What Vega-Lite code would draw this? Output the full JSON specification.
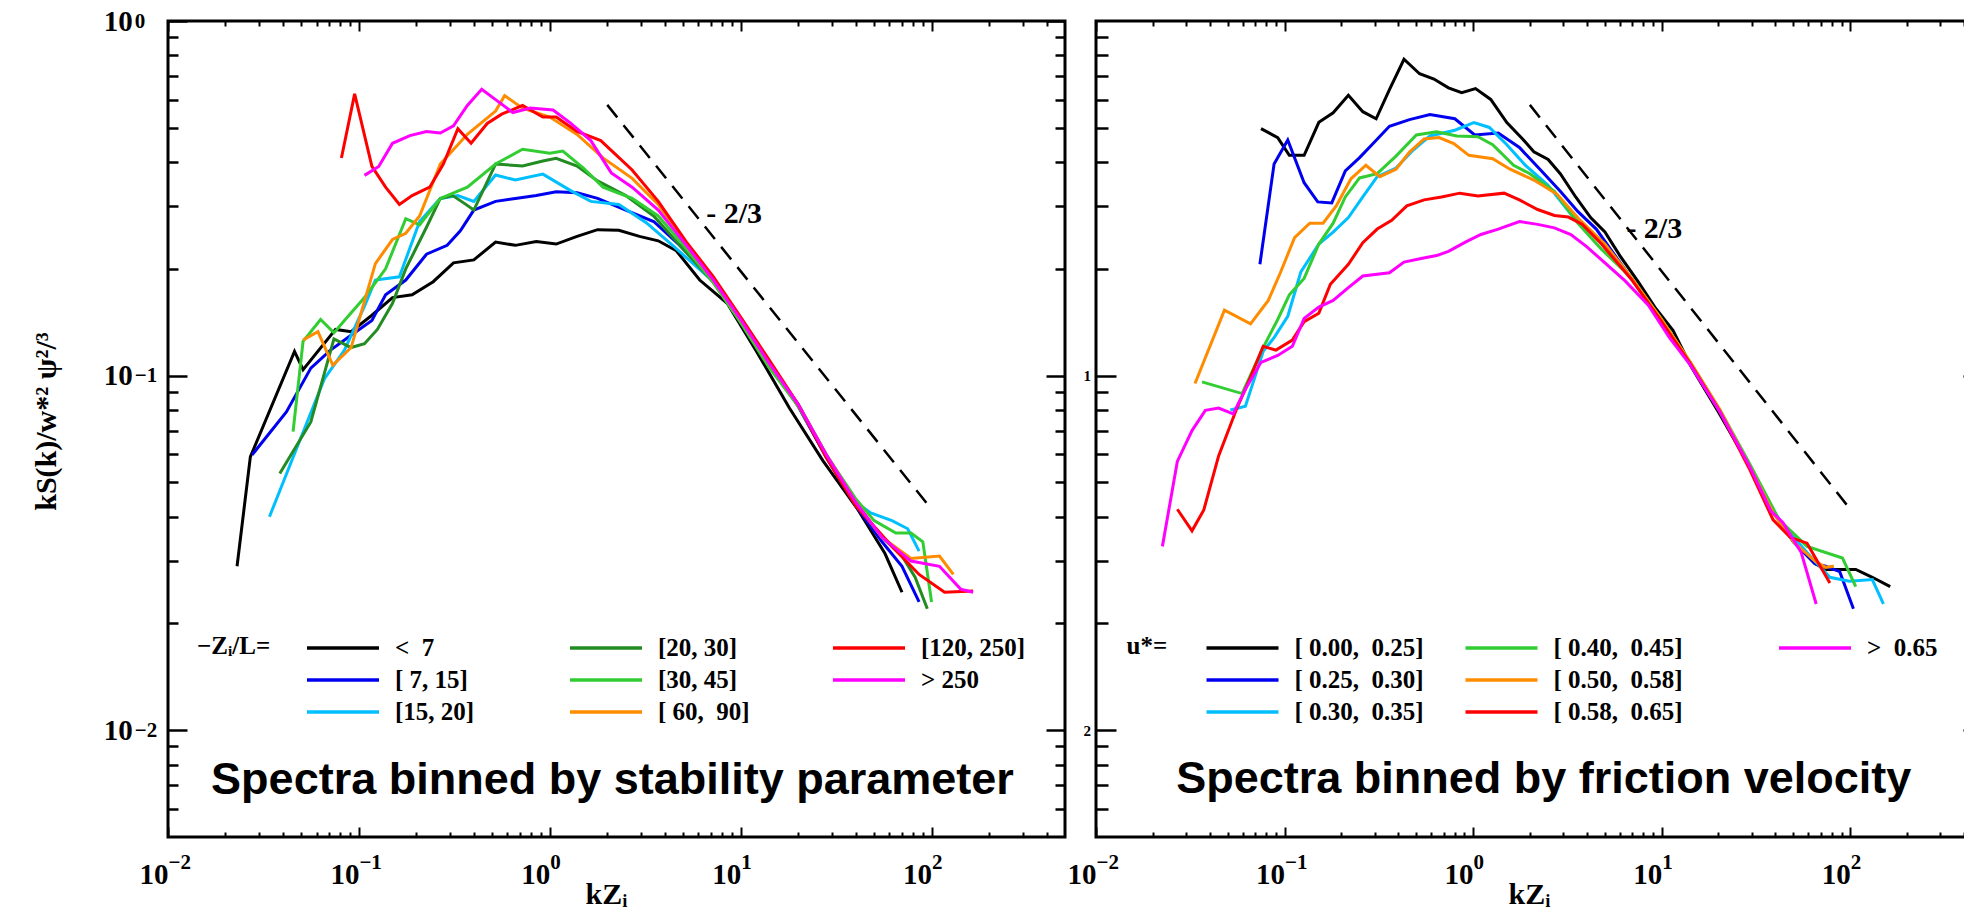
{
"$schema":"https://vega.github.io/schema/vega-lite/v6.json",
"padding":{"left":29,"top":5,"right":-17,"bottom":0},
"autosize":{"type":"pad"},
"bounds":"flush",
"spacing":31,
"background":"white",
"config":{
 "view":{"stroke":"black","strokeWidth":3},
 "axis":{"grid":false,"domain":false,"labelFlush":false,"labelOverlap":false,"labelBound":false,"tickColor":"black","labelColor":"black","titleColor":"black","labelFont":"Liberation Serif","labelFontWeight":"bold","titleFont":"Liberation Serif","titleFontWeight":"bold"},
 "legend":{"labelFont":"Liberation Serif","labelFontWeight":"bold","titleFont":"Liberation Serif","titleFontWeight":"bold","labelColor":"black","titleColor":"black"}
},
"datasets":{
"left":[
{"s":"< 7","x":0.023,"y":0.029},{"s":"< 7","x":0.027,"y":0.059},{"s":"< 7","x":0.046,"y":0.117},{"s":"< 7","x":0.051,"y":0.104},{"s":"< 7","x":0.0755,"y":0.135},{"s":"< 7","x":0.091,"y":0.133},{"s":"< 7","x":0.117,"y":0.148},{"s":"< 7","x":0.15,"y":0.166},{"s":"< 7","x":0.19,"y":0.169},{"s":"< 7","x":0.245,"y":0.184},{"s":"< 7","x":0.313,"y":0.208},{"s":"< 7","x":0.4,"y":0.212},{"s":"< 7","x":0.52,"y":0.238},{"s":"< 7","x":0.66,"y":0.233},{"s":"< 7","x":0.85,"y":0.239},{"s":"< 7","x":1.08,"y":0.235},{"s":"< 7","x":1.39,"y":0.247},{"s":"< 7","x":1.78,"y":0.258},{"s":"< 7","x":2.3,"y":0.257},{"s":"< 7","x":2.95,"y":0.247},{"s":"< 7","x":3.7,"y":0.24},{"s":"< 7","x":4.6,"y":0.225},{"s":"< 7","x":6.1,"y":0.186},{"s":"< 7","x":8.5,"y":0.16},{"s":"< 7","x":12,"y":0.118},{"s":"< 7","x":18,"y":0.081},{"s":"< 7","x":27,"y":0.0575},{"s":"< 7","x":41,"y":0.042},{"s":"< 7","x":57,"y":0.0315},{"s":"< 7","x":70,"y":0.0245},
{"s":"[ 7, 15]","x":0.0276,"y":0.0598},{"s":"[ 7, 15]","x":0.0417,"y":0.079},{"s":"[ 7, 15]","x":0.056,"y":0.105},{"s":"[ 7, 15]","x":0.071,"y":0.118},{"s":"[ 7, 15]","x":0.091,"y":0.13},{"s":"[ 7, 15]","x":0.117,"y":0.143},{"s":"[ 7, 15]","x":0.138,"y":0.169},{"s":"[ 7, 15]","x":0.176,"y":0.186},{"s":"[ 7, 15]","x":0.226,"y":0.22},{"s":"[ 7, 15]","x":0.29,"y":0.233},{"s":"[ 7, 15]","x":0.34,"y":0.256},{"s":"[ 7, 15]","x":0.4,"y":0.293},{"s":"[ 7, 15]","x":0.52,"y":0.31},{"s":"[ 7, 15]","x":0.66,"y":0.316},{"s":"[ 7, 15]","x":0.85,"y":0.322},{"s":"[ 7, 15]","x":1.08,"y":0.33},{"s":"[ 7, 15]","x":1.39,"y":0.328},{"s":"[ 7, 15]","x":1.78,"y":0.316},{"s":"[ 7, 15]","x":2.5,"y":0.293},{"s":"[ 7, 15]","x":3.5,"y":0.272},{"s":"[ 7, 15]","x":4.8,"y":0.233},{"s":"[ 7, 15]","x":7.2,"y":0.185},{"s":"[ 7, 15]","x":10,"y":0.142},{"s":"[ 7, 15]","x":14,"y":0.108},{"s":"[ 7, 15]","x":20,"y":0.082},{"s":"[ 7, 15]","x":28,"y":0.059},{"s":"[ 7, 15]","x":40,"y":0.043},{"s":"[ 7, 15]","x":55,"y":0.034},{"s":"[ 7, 15]","x":70,"y":0.029},{"s":"[ 7, 15]","x":86,"y":0.023},
{"s":"[15, 20]","x":0.034,"y":0.04},{"s":"[15, 20]","x":0.047,"y":0.062},{"s":"[15, 20]","x":0.066,"y":0.098},{"s":"[15, 20]","x":0.084,"y":0.118},{"s":"[15, 20]","x":0.107,"y":0.157},{"s":"[15, 20]","x":0.122,"y":0.186},{"s":"[15, 20]","x":0.163,"y":0.19},{"s":"[15, 20]","x":0.208,"y":0.272},{"s":"[15, 20]","x":0.267,"y":0.316},{"s":"[15, 20]","x":0.33,"y":0.322},{"s":"[15, 20]","x":0.4,"y":0.31},{"s":"[15, 20]","x":0.52,"y":0.368},{"s":"[15, 20]","x":0.66,"y":0.356},{"s":"[15, 20]","x":0.92,"y":0.37},{"s":"[15, 20]","x":1.28,"y":0.333},{"s":"[15, 20]","x":1.64,"y":0.31},{"s":"[15, 20]","x":2.3,"y":0.304},{"s":"[15, 20]","x":3.2,"y":0.27},{"s":"[15, 20]","x":4.4,"y":0.233},{"s":"[15, 20]","x":7.2,"y":0.184},{"s":"[15, 20]","x":10,"y":0.143},{"s":"[15, 20]","x":14,"y":0.109},{"s":"[15, 20]","x":20,"y":0.083},{"s":"[15, 20]","x":28,"y":0.06},{"s":"[15, 20]","x":40,"y":0.044},{"s":"[15, 20]","x":48,"y":0.041},{"s":"[15, 20]","x":62,"y":0.039},{"s":"[15, 20]","x":75,"y":0.037},{"s":"[15, 20]","x":86,"y":0.032},
{"s":"[20, 30]","x":0.0385,"y":0.053},{"s":"[20, 30]","x":0.056,"y":0.074},{"s":"[20, 30]","x":0.074,"y":0.127},{"s":"[20, 30]","x":0.091,"y":0.12},{"s":"[20, 30]","x":0.107,"y":0.123},{"s":"[20, 30]","x":0.125,"y":0.135},{"s":"[20, 30]","x":0.15,"y":0.16},{"s":"[20, 30]","x":0.176,"y":0.2},{"s":"[20, 30]","x":0.226,"y":0.262},{"s":"[20, 30]","x":0.267,"y":0.316},{"s":"[20, 30]","x":0.31,"y":0.322},{"s":"[20, 30]","x":0.36,"y":0.305},{"s":"[20, 30]","x":0.4,"y":0.293},{"s":"[20, 30]","x":0.52,"y":0.395},{"s":"[20, 30]","x":0.72,"y":0.39},{"s":"[20, 30]","x":0.92,"y":0.403},{"s":"[20, 30]","x":1.08,"y":0.41},{"s":"[20, 30]","x":1.39,"y":0.39},{"s":"[20, 30]","x":1.78,"y":0.354},{"s":"[20, 30]","x":2.5,"y":0.322},{"s":"[20, 30]","x":3.5,"y":0.282},{"s":"[20, 30]","x":4.8,"y":0.233},{"s":"[20, 30]","x":7.2,"y":0.183},{"s":"[20, 30]","x":10,"y":0.142},{"s":"[20, 30]","x":14,"y":0.108},{"s":"[20, 30]","x":20,"y":0.083},{"s":"[20, 30]","x":28,"y":0.06},{"s":"[20, 30]","x":40,"y":0.0435},{"s":"[20, 30]","x":55,"y":0.035},{"s":"[20, 30]","x":70,"y":0.031},{"s":"[20, 30]","x":82,"y":0.027},{"s":"[20, 30]","x":95,"y":0.022},
{"s":"[30, 45]","x":0.0452,"y":0.0695},{"s":"[30, 45]","x":0.051,"y":0.125},{"s":"[30, 45]","x":0.063,"y":0.144},{"s":"[30, 45]","x":0.074,"y":0.132},{"s":"[30, 45]","x":0.084,"y":0.143},{"s":"[30, 45]","x":0.107,"y":0.166},{"s":"[30, 45]","x":0.138,"y":0.2},{"s":"[30, 45]","x":0.176,"y":0.277},{"s":"[30, 45]","x":0.208,"y":0.266},{"s":"[30, 45]","x":0.267,"y":0.316},{"s":"[30, 45]","x":0.37,"y":0.34},{"s":"[30, 45]","x":0.52,"y":0.395},{"s":"[30, 45]","x":0.72,"y":0.435},{"s":"[30, 45]","x":1.0,"y":0.424},{"s":"[30, 45]","x":1.17,"y":0.43},{"s":"[30, 45]","x":1.5,"y":0.385},{"s":"[30, 45]","x":1.9,"y":0.34},{"s":"[30, 45]","x":2.7,"y":0.316},{"s":"[30, 45]","x":3.7,"y":0.282},{"s":"[30, 45]","x":4.8,"y":0.24},{"s":"[30, 45]","x":7.2,"y":0.183},{"s":"[30, 45]","x":10,"y":0.141},{"s":"[30, 45]","x":14,"y":0.106},{"s":"[30, 45]","x":20,"y":0.082},{"s":"[30, 45]","x":28,"y":0.06},{"s":"[30, 45]","x":40,"y":0.045},{"s":"[30, 45]","x":50,"y":0.039},{"s":"[30, 45]","x":65,"y":0.036},{"s":"[30, 45]","x":78,"y":0.036},{"s":"[30, 45]","x":90,"y":0.034},{"s":"[30, 45]","x":100,"y":0.023},
{"s":"[ 60,  90]","x":0.051,"y":0.126},{"s":"[ 60,  90]","x":0.061,"y":0.133},{"s":"[ 60,  90]","x":0.073,"y":0.107},{"s":"[ 60,  90]","x":0.091,"y":0.12},{"s":"[ 60,  90]","x":0.122,"y":0.207},{"s":"[ 60,  90]","x":0.15,"y":0.242},{"s":"[ 60,  90]","x":0.176,"y":0.252},{"s":"[ 60,  90]","x":0.208,"y":0.282},{"s":"[ 60,  90]","x":0.267,"y":0.395},{"s":"[ 60,  90]","x":0.37,"y":0.479},{"s":"[ 60,  90]","x":0.52,"y":0.557},{"s":"[ 60,  90]","x":0.58,"y":0.616},{"s":"[ 60,  90]","x":0.72,"y":0.568},{"s":"[ 60,  90]","x":1.0,"y":0.536},{"s":"[ 60,  90]","x":1.39,"y":0.479},{"s":"[ 60,  90]","x":1.9,"y":0.411},{"s":"[ 60,  90]","x":2.7,"y":0.36},{"s":"[ 60,  90]","x":3.7,"y":0.304},{"s":"[ 60,  90]","x":5.2,"y":0.233},{"s":"[ 60,  90]","x":7.2,"y":0.186},{"s":"[ 60,  90]","x":10,"y":0.144},{"s":"[ 60,  90]","x":14,"y":0.109},{"s":"[ 60,  90]","x":20,"y":0.083},{"s":"[ 60,  90]","x":28,"y":0.06},{"s":"[ 60,  90]","x":40,"y":0.044},{"s":"[ 60,  90]","x":55,"y":0.035},{"s":"[ 60,  90]","x":78,"y":0.0305},{"s":"[ 60,  90]","x":110,"y":0.031},{"s":"[ 60,  90]","x":130,"y":0.0275},
{"s":"[120, 250]","x":0.081,"y":0.411},{"s":"[120, 250]","x":0.095,"y":0.623},{"s":"[120, 250]","x":0.117,"y":0.389},{"s":"[120, 250]","x":0.138,"y":0.34},{"s":"[120, 250]","x":0.163,"y":0.304},{"s":"[120, 250]","x":0.19,"y":0.322},{"s":"[120, 250]","x":0.235,"y":0.34},{"s":"[120, 250]","x":0.277,"y":0.395},{"s":"[120, 250]","x":0.33,"y":0.497},{"s":"[120, 250]","x":0.387,"y":0.452},{"s":"[120, 250]","x":0.47,"y":0.514},{"s":"[120, 250]","x":0.56,"y":0.546},{"s":"[120, 250]","x":0.72,"y":0.578},{"s":"[120, 250]","x":0.92,"y":0.536},{"s":"[120, 250]","x":1.08,"y":0.536},{"s":"[120, 250]","x":1.39,"y":0.488},{"s":"[120, 250]","x":1.85,"y":0.46},{"s":"[120, 250]","x":2.7,"y":0.38},{"s":"[120, 250]","x":3.7,"y":0.31},{"s":"[120, 250]","x":5.2,"y":0.238},{"s":"[120, 250]","x":7.2,"y":0.19},{"s":"[120, 250]","x":10.1,"y":0.145},{"s":"[120, 250]","x":14.2,"y":0.11},{"s":"[120, 250]","x":20,"y":0.083},{"s":"[120, 250]","x":28,"y":0.059},{"s":"[120, 250]","x":40,"y":0.043},{"s":"[120, 250]","x":62,"y":0.033},{"s":"[120, 250]","x":86,"y":0.0275},{"s":"[120, 250]","x":117,"y":0.0245},{"s":"[120, 250]","x":165,"y":0.0247},
{"s":"> 250","x":0.107,"y":0.367},{"s":"> 250","x":0.127,"y":0.389},{"s":"> 250","x":0.15,"y":0.452},{"s":"> 250","x":0.185,"y":0.475},{"s":"> 250","x":0.226,"y":0.488},{"s":"> 250","x":0.267,"y":0.483},{"s":"> 250","x":0.313,"y":0.506},{"s":"> 250","x":0.37,"y":0.578},{"s":"> 250","x":0.44,"y":0.642},{"s":"> 250","x":0.52,"y":0.6},{"s":"> 250","x":0.64,"y":0.552},{"s":"> 250","x":0.79,"y":0.568},{"s":"> 250","x":1.04,"y":0.561},{"s":"> 250","x":1.28,"y":0.516},{"s":"> 250","x":1.64,"y":0.46},{"s":"> 250","x":2.1,"y":0.373},{"s":"> 250","x":2.7,"y":0.34},{"s":"> 250","x":3.7,"y":0.293},{"s":"> 250","x":5.2,"y":0.233},{"s":"> 250","x":7.2,"y":0.186},{"s":"> 250","x":10,"y":0.144},{"s":"> 250","x":14,"y":0.109},{"s":"> 250","x":20,"y":0.083},{"s":"> 250","x":28,"y":0.06},{"s":"> 250","x":40,"y":0.044},{"s":"> 250","x":55,"y":0.035},{"s":"> 250","x":78,"y":0.03},{"s":"> 250","x":110,"y":0.029},{"s":"> 250","x":142,"y":0.025},{"s":"> 250","x":165,"y":0.0245}
],
"right":[
{"s":"[ 0.00,  0.25]","x":0.075,"y":0.497},{"s":"[ 0.00,  0.25]","x":0.092,"y":0.469},{"s":"[ 0.00,  0.25]","x":0.106,"y":0.418},{"s":"[ 0.00,  0.25]","x":0.127,"y":0.418},{"s":"[ 0.00,  0.25]","x":0.152,"y":0.518},{"s":"[ 0.00,  0.25]","x":0.181,"y":0.551},{"s":"[ 0.00,  0.25]","x":0.218,"y":0.617},{"s":"[ 0.00,  0.25]","x":0.26,"y":0.555},{"s":"[ 0.00,  0.25]","x":0.306,"y":0.53},{"s":"[ 0.00,  0.25]","x":0.36,"y":0.64},{"s":"[ 0.00,  0.25]","x":0.43,"y":0.78},{"s":"[ 0.00,  0.25]","x":0.52,"y":0.71},{"s":"[ 0.00,  0.25]","x":0.62,"y":0.686},{"s":"[ 0.00,  0.25]","x":0.74,"y":0.648},{"s":"[ 0.00,  0.25]","x":0.87,"y":0.628},{"s":"[ 0.00,  0.25]","x":1.03,"y":0.645},{"s":"[ 0.00,  0.25]","x":1.24,"y":0.601},{"s":"[ 0.00,  0.25]","x":1.51,"y":0.517},{"s":"[ 0.00,  0.25]","x":1.83,"y":0.465},{"s":"[ 0.00,  0.25]","x":2.1,"y":0.428},{"s":"[ 0.00,  0.25]","x":2.5,"y":0.407},{"s":"[ 0.00,  0.25]","x":2.9,"y":0.371},{"s":"[ 0.00,  0.25]","x":3.5,"y":0.319},{"s":"[ 0.00,  0.25]","x":4.2,"y":0.279},{"s":"[ 0.00,  0.25]","x":5.0,"y":0.254},{"s":"[ 0.00,  0.25]","x":6.0,"y":0.218},{"s":"[ 0.00,  0.25]","x":7.5,"y":0.184},{"s":"[ 0.00,  0.25]","x":9.2,"y":0.156},{"s":"[ 0.00,  0.25]","x":11.5,"y":0.134},{"s":"[ 0.00,  0.25]","x":14.2,"y":0.107},{"s":"[ 0.00,  0.25]","x":20,"y":0.079},{"s":"[ 0.00,  0.25]","x":29,"y":0.056},{"s":"[ 0.00,  0.25]","x":39,"y":0.0415},{"s":"[ 0.00,  0.25]","x":50,"y":0.034},{"s":"[ 0.00,  0.25]","x":65,"y":0.0295},{"s":"[ 0.00,  0.25]","x":74,"y":0.0284},{"s":"[ 0.00,  0.25]","x":107,"y":0.0284},{"s":"[ 0.00,  0.25]","x":131,"y":0.027},{"s":"[ 0.00,  0.25]","x":163,"y":0.0254},
{"s":"[ 0.25,  0.30]","x":0.074,"y":0.206},{"s":"[ 0.25,  0.30]","x":0.088,"y":0.395},{"s":"[ 0.25,  0.30]","x":0.104,"y":0.462},{"s":"[ 0.25,  0.30]","x":0.127,"y":0.35},{"s":"[ 0.25,  0.30]","x":0.15,"y":0.309},{"s":"[ 0.25,  0.30]","x":0.178,"y":0.307},{"s":"[ 0.25,  0.30]","x":0.21,"y":0.378},{"s":"[ 0.25,  0.30]","x":0.25,"y":0.412},{"s":"[ 0.25,  0.30]","x":0.3,"y":0.456},{"s":"[ 0.25,  0.30]","x":0.36,"y":0.505},{"s":"[ 0.25,  0.30]","x":0.46,"y":0.527},{"s":"[ 0.25,  0.30]","x":0.59,"y":0.545},{"s":"[ 0.25,  0.30]","x":0.8,"y":0.53},{"s":"[ 0.25,  0.30]","x":1.02,"y":0.477},{"s":"[ 0.25,  0.30]","x":1.36,"y":0.483},{"s":"[ 0.25,  0.30]","x":1.76,"y":0.44},{"s":"[ 0.25,  0.30]","x":2.3,"y":0.378},{"s":"[ 0.25,  0.30]","x":2.9,"y":0.331},{"s":"[ 0.25,  0.30]","x":3.6,"y":0.29},{"s":"[ 0.25,  0.30]","x":4.5,"y":0.259},{"s":"[ 0.25,  0.30]","x":6.9,"y":0.188},{"s":"[ 0.25,  0.30]","x":9.9,"y":0.144},{"s":"[ 0.25,  0.30]","x":14.2,"y":0.108},{"s":"[ 0.25,  0.30]","x":20.4,"y":0.079},{"s":"[ 0.25,  0.30]","x":29,"y":0.056},{"s":"[ 0.25,  0.30]","x":39,"y":0.0415},{"s":"[ 0.25,  0.30]","x":50,"y":0.034},{"s":"[ 0.25,  0.30]","x":65,"y":0.0295},{"s":"[ 0.25,  0.30]","x":74,"y":0.029},{"s":"[ 0.25,  0.30]","x":88,"y":0.028},{"s":"[ 0.25,  0.30]","x":104,"y":0.022},
{"s":"[ 0.30,  0.35]","x":0.0516,"y":0.08},{"s":"[ 0.30,  0.35]","x":0.062,"y":0.082},{"s":"[ 0.30,  0.35]","x":0.077,"y":0.117},{"s":"[ 0.30,  0.35]","x":0.088,"y":0.128},{"s":"[ 0.30,  0.35]","x":0.104,"y":0.147},{"s":"[ 0.30,  0.35]","x":0.122,"y":0.196},{"s":"[ 0.30,  0.35]","x":0.152,"y":0.235},{"s":"[ 0.30,  0.35]","x":0.181,"y":0.254},{"s":"[ 0.30,  0.35]","x":0.218,"y":0.279},{"s":"[ 0.30,  0.35]","x":0.26,"y":0.319},{"s":"[ 0.30,  0.35]","x":0.31,"y":0.364},{"s":"[ 0.30,  0.35]","x":0.39,"y":0.385},{"s":"[ 0.30,  0.35]","x":0.48,"y":0.432},{"s":"[ 0.30,  0.35]","x":0.59,"y":0.474},{"s":"[ 0.30,  0.35]","x":0.8,"y":0.492},{"s":"[ 0.30,  0.35]","x":1.01,"y":0.517},{"s":"[ 0.30,  0.35]","x":1.22,"y":0.501},{"s":"[ 0.30,  0.35]","x":1.51,"y":0.448},{"s":"[ 0.30,  0.35]","x":1.89,"y":0.392},{"s":"[ 0.30,  0.35]","x":2.5,"y":0.344},{"s":"[ 0.30,  0.35]","x":3.3,"y":0.285},{"s":"[ 0.30,  0.35]","x":4.5,"y":0.245},{"s":"[ 0.30,  0.35]","x":6.9,"y":0.188},{"s":"[ 0.30,  0.35]","x":9.9,"y":0.144},{"s":"[ 0.30,  0.35]","x":14.2,"y":0.108},{"s":"[ 0.30,  0.35]","x":20.4,"y":0.079},{"s":"[ 0.30,  0.35]","x":29,"y":0.056},{"s":"[ 0.30,  0.35]","x":39,"y":0.0415},{"s":"[ 0.30,  0.35]","x":48,"y":0.036},{"s":"[ 0.30,  0.35]","x":59,"y":0.0317},{"s":"[ 0.30,  0.35]","x":78,"y":0.027},{"s":"[ 0.30,  0.35]","x":99,"y":0.0263},{"s":"[ 0.30,  0.35]","x":131,"y":0.0266},{"s":"[ 0.30,  0.35]","x":150,"y":0.0227},
{"s":"[ 0.40,  0.45]","x":0.0365,"y":0.096},{"s":"[ 0.40,  0.45]","x":0.0595,"y":0.089},{"s":"[ 0.40,  0.45]","x":0.077,"y":0.12},{"s":"[ 0.40,  0.45]","x":0.092,"y":0.144},{"s":"[ 0.40,  0.45]","x":0.106,"y":0.169},{"s":"[ 0.40,  0.45]","x":0.127,"y":0.188},{"s":"[ 0.40,  0.45]","x":0.152,"y":0.235},{"s":"[ 0.40,  0.45]","x":0.181,"y":0.269},{"s":"[ 0.40,  0.45]","x":0.21,"y":0.319},{"s":"[ 0.40,  0.45]","x":0.25,"y":0.361},{"s":"[ 0.40,  0.45]","x":0.31,"y":0.371},{"s":"[ 0.40,  0.45]","x":0.39,"y":0.416},{"s":"[ 0.40,  0.45]","x":0.5,"y":0.477},{"s":"[ 0.40,  0.45]","x":0.64,"y":0.487},{"s":"[ 0.40,  0.45]","x":0.82,"y":0.474},{"s":"[ 0.40,  0.45]","x":1.06,"y":0.472},{"s":"[ 0.40,  0.45]","x":1.27,"y":0.448},{"s":"[ 0.40,  0.45]","x":1.64,"y":0.392},{"s":"[ 0.40,  0.45]","x":2.0,"y":0.371},{"s":"[ 0.40,  0.45]","x":2.7,"y":0.331},{"s":"[ 0.40,  0.45]","x":3.6,"y":0.269},{"s":"[ 0.40,  0.45]","x":4.8,"y":0.227},{"s":"[ 0.40,  0.45]","x":6.9,"y":0.189},{"s":"[ 0.40,  0.45]","x":9.9,"y":0.145},{"s":"[ 0.40,  0.45]","x":14.2,"y":0.109},{"s":"[ 0.40,  0.45]","x":20.4,"y":0.08},{"s":"[ 0.40,  0.45]","x":29,"y":0.057},{"s":"[ 0.40,  0.45]","x":42,"y":0.0392},{"s":"[ 0.40,  0.45]","x":59,"y":0.033},{"s":"[ 0.40,  0.45]","x":91,"y":0.0306},{"s":"[ 0.40,  0.45]","x":107,"y":0.0254},
{"s":"[ 0.50,  0.58]","x":0.0335,"y":0.095},{"s":"[ 0.50,  0.58]","x":0.048,"y":0.153},{"s":"[ 0.50,  0.58]","x":0.066,"y":0.14},{"s":"[ 0.50,  0.58]","x":0.082,"y":0.163},{"s":"[ 0.50,  0.58]","x":0.095,"y":0.195},{"s":"[ 0.50,  0.58]","x":0.113,"y":0.245},{"s":"[ 0.50,  0.58]","x":0.136,"y":0.269},{"s":"[ 0.50,  0.58]","x":0.16,"y":0.269},{"s":"[ 0.50,  0.58]","x":0.188,"y":0.301},{"s":"[ 0.50,  0.58]","x":0.225,"y":0.359},{"s":"[ 0.50,  0.58]","x":0.27,"y":0.392},{"s":"[ 0.50,  0.58]","x":0.32,"y":0.364},{"s":"[ 0.50,  0.58]","x":0.39,"y":0.382},{"s":"[ 0.50,  0.58]","x":0.46,"y":0.427},{"s":"[ 0.50,  0.58]","x":0.55,"y":0.465},{"s":"[ 0.50,  0.58]","x":0.66,"y":0.469},{"s":"[ 0.50,  0.58]","x":0.79,"y":0.451},{"s":"[ 0.50,  0.58]","x":0.95,"y":0.418},{"s":"[ 0.50,  0.58]","x":1.27,"y":0.409},{"s":"[ 0.50,  0.58]","x":1.57,"y":0.382},{"s":"[ 0.50,  0.58]","x":2.1,"y":0.356},{"s":"[ 0.50,  0.58]","x":2.8,"y":0.324},{"s":"[ 0.50,  0.58]","x":3.7,"y":0.274},{"s":"[ 0.50,  0.58]","x":5.0,"y":0.235},{"s":"[ 0.50,  0.58]","x":6.9,"y":0.189},{"s":"[ 0.50,  0.58]","x":9.9,"y":0.145},{"s":"[ 0.50,  0.58]","x":14.2,"y":0.109},{"s":"[ 0.50,  0.58]","x":20.4,"y":0.08},{"s":"[ 0.50,  0.58]","x":29,"y":0.056},{"s":"[ 0.50,  0.58]","x":39,"y":0.041},{"s":"[ 0.50,  0.58]","x":50,"y":0.034},{"s":"[ 0.50,  0.58]","x":65,"y":0.03},{"s":"[ 0.50,  0.58]","x":74,"y":0.0288},{"s":"[ 0.50,  0.58]","x":82,"y":0.029},
{"s":"[ 0.58,  0.65]","x":0.027,"y":0.042},{"s":"[ 0.58,  0.65]","x":0.0323,"y":0.0365},{"s":"[ 0.58,  0.65]","x":0.0373,"y":0.0418},{"s":"[ 0.58,  0.65]","x":0.0447,"y":0.0594},{"s":"[ 0.58,  0.65]","x":0.0554,"y":0.08},{"s":"[ 0.58,  0.65]","x":0.066,"y":0.099},{"s":"[ 0.58,  0.65]","x":0.077,"y":0.121},{"s":"[ 0.58,  0.65]","x":0.09,"y":0.118},{"s":"[ 0.58,  0.65]","x":0.11,"y":0.126},{"s":"[ 0.58,  0.65]","x":0.127,"y":0.142},{"s":"[ 0.58,  0.65]","x":0.152,"y":0.15},{"s":"[ 0.58,  0.65]","x":0.175,"y":0.181},{"s":"[ 0.58,  0.65]","x":0.218,"y":0.206},{"s":"[ 0.58,  0.65]","x":0.26,"y":0.237},{"s":"[ 0.58,  0.65]","x":0.31,"y":0.259},{"s":"[ 0.58,  0.65]","x":0.37,"y":0.274},{"s":"[ 0.58,  0.65]","x":0.445,"y":0.301},{"s":"[ 0.58,  0.65]","x":0.55,"y":0.313},{"s":"[ 0.58,  0.65]","x":0.68,"y":0.319},{"s":"[ 0.58,  0.65]","x":0.85,"y":0.327},{"s":"[ 0.58,  0.65]","x":1.06,"y":0.321},{"s":"[ 0.58,  0.65]","x":1.46,"y":0.327},{"s":"[ 0.58,  0.65]","x":1.76,"y":0.313},{"s":"[ 0.58,  0.65]","x":2.2,"y":0.294},{"s":"[ 0.58,  0.65]","x":2.7,"y":0.283},{"s":"[ 0.58,  0.65]","x":3.2,"y":0.28},{"s":"[ 0.58,  0.65]","x":3.8,"y":0.267},{"s":"[ 0.58,  0.65]","x":4.8,"y":0.235},{"s":"[ 0.58,  0.65]","x":6.9,"y":0.187},{"s":"[ 0.58,  0.65]","x":9.9,"y":0.143},{"s":"[ 0.58,  0.65]","x":14.2,"y":0.108},{"s":"[ 0.58,  0.65]","x":20.4,"y":0.079},{"s":"[ 0.58,  0.65]","x":29,"y":0.055},{"s":"[ 0.58,  0.65]","x":39,"y":0.0392},{"s":"[ 0.58,  0.65]","x":48,"y":0.035},{"s":"[ 0.58,  0.65]","x":59,"y":0.0337},{"s":"[ 0.58,  0.65]","x":78,"y":0.026},
{"s":">  0.65","x":0.0225,"y":0.033},{"s":">  0.65","x":0.027,"y":0.0573},{"s":">  0.65","x":0.0323,"y":0.07},{"s":">  0.65","x":0.038,"y":0.0798},{"s":">  0.65","x":0.0447,"y":0.081},{"s":">  0.65","x":0.0534,"y":0.078},{"s":">  0.65","x":0.062,"y":0.0915},{"s":">  0.65","x":0.075,"y":0.109},{"s":">  0.65","x":0.092,"y":0.114},{"s":">  0.65","x":0.11,"y":0.121},{"s":">  0.65","x":0.127,"y":0.145},{"s":">  0.65","x":0.152,"y":0.156},{"s":">  0.65","x":0.181,"y":0.163},{"s":">  0.65","x":0.218,"y":0.177},{"s":">  0.65","x":0.26,"y":0.191},{"s":">  0.65","x":0.36,"y":0.195},{"s":">  0.65","x":0.43,"y":0.209},{"s":">  0.65","x":0.53,"y":0.214},{"s":">  0.65","x":0.64,"y":0.218},{"s":">  0.65","x":0.74,"y":0.224},{"s":">  0.65","x":0.91,"y":0.238},{"s":">  0.65","x":1.1,"y":0.25},{"s":">  0.65","x":1.36,"y":0.259},{"s":">  0.65","x":1.76,"y":0.272},{"s":">  0.65","x":2.2,"y":0.267},{"s":">  0.65","x":2.7,"y":0.261},{"s":">  0.65","x":3.3,"y":0.25},{"s":">  0.65","x":4.0,"y":0.231},{"s":">  0.65","x":4.8,"y":0.212},{"s":">  0.65","x":6.4,"y":0.185},{"s":">  0.65","x":8.5,"y":0.158},{"s":">  0.65","x":11,"y":0.128},{"s":">  0.65","x":14.2,"y":0.107},{"s":">  0.65","x":20.4,"y":0.079},{"s":">  0.65","x":29,"y":0.056},{"s":">  0.65","x":38,"y":0.0415},{"s":">  0.65","x":44,"y":0.0385},{"s":">  0.65","x":55,"y":0.0317},{"s":">  0.65","x":66,"y":0.0227}
]
},
"hconcat":[
{
 "width":897,"height":816,
 "resolve":{"axis":{"x":"independent","y":"independent"}},
 "layer":[
  {
   "data":{"name":"left"},
   "mark":{"type":"line","strokeWidth":3},
   "encoding":{
    "x":{"field":"x","type":"quantitative","scale":{"type":"log","domain":[0.01,500],"nice":false},
     "axis":{"orient":"bottom","values":[0.01,0.1,1,10,100],"labelExpr":"'10'","tickSize":-10,"tickWidth":2,"labelFontSize":29,"labelAlign":"right","labelBaseline":"alphabetic","labelDx":4,"labelPadding":56,"title":"kZᵢ","titleFontSize":30,"titleX":438,"titleY":66,"titleAlign":"center","titleBaseline":"alphabetic"}},
    "y":{"field":"y","type":"quantitative","scale":{"type":"log","domain":[0.005,1],"nice":false},
     "axis":{"orient":"left","values":[0.01,0.1,1],"labelExpr":"'10'","tickSize":-19,"tickWidth":2.5,"labelFontSize":29,"labelAlign":"right","labelBaseline":"middle","labelDy":11,"labelPadding":54.7,"title":"kS(k)/w*² ψ²/³","titleFontSize":30,"titleX":-113,"titleY":400,"titleAlign":"center","titleBaseline":"alphabetic","titleAngle":-90}},
    "color":{"field":"s","type":"nominal",
     "scale":{"domain":["< 7","[ 7, 15]","[15, 20]","[20, 30]","[30, 45]","[ 60,  90]","[120, 250]","> 250"],
              "range":["#000000","#0000f0","#00bfff","#228b22","#32cd32","#ff8c00","#ff0000","#ff00ff"]},
     "legend":{"orient":"none","legendX":29,"legendY":613,"columns":3,"gridAlign":"all","columnPadding":63,"rowPadding":5,"symbolType":"M-3,0H3","symbolSize":576,"symbolStrokeWidth":3.5,"labelFontSize":25,"labelOffset":38,"labelLimit":0,
       "labelExpr":"datum.label == '< 7' ? '<\u00a0 7' : replace(datum.label, '  ', '\u00a0 ')",
       "title":"−Zᵢ/L=","titleOrient":"left","titleAnchor":"start","titleBaseline":"top","titleFontSize":25,"titlePadding":58,"titleLimit":0}}
   }
  },
  {
   "data":{"values":[{"x":2,"y":0.58},{"x":100,"y":0.042}]},
   "mark":{"type":"line","color":"black","strokeWidth":2.5,"strokeDash":[16,10]},
   "encoding":{
    "x":{"field":"x","type":"quantitative","scale":{"type":"log","domain":[0.01,500],"nice":false},
     "axis":{"orient":"bottom","values":[0.02,0.03,0.04,0.05,0.06,0.07,0.08,0.09,0.2,0.3,0.4,0.5,0.6,0.7,0.8,0.9,2,3,4,5,6,7,8,9,20,30,40,50,60,70,80,90,200,300,400],"labels":false,"tickSize":-5,"tickWidth":2,"title":null}},
    "y":{"field":"y","type":"quantitative","scale":{"type":"log","domain":[0.005,1],"nice":false},
     "axis":{"orient":"left","values":[0.006,0.007,0.008,0.009,0.02,0.03,0.04,0.05,0.06,0.07,0.08,0.09,0.2,0.3,0.4,0.5,0.6,0.7,0.8,0.9],"labels":false,"tickSize":-10,"tickWidth":2.5,"title":null}}
   }
  },
  {
   "data":{"values":[{"x":6.6,"y":0.285,"t":"- 2/3"}]},
   "mark":{"type":"text","align":"left","baseline":"middle","font":"Liberation Serif","fontWeight":"bold","fontSize":30,"color":"black"},
   "encoding":{
    "x":{"field":"x","type":"quantitative","scale":{"type":"log","domain":[0.01,500],"nice":false},
     "axis":{"orient":"bottom","values":[0.01,0.1,1,10,100],"ticks":false,"labelExpr":"format(round(log(datum.value)/LN10),'d')","labelFontSize":21,"labelAlign":"left","labelBaseline":"alphabetic","labelDx":8,"labelPadding":31,"title":null}},
    "y":{"field":"y","type":"quantitative","scale":{"type":"log","domain":[0.005,1],"nice":false},
     "axis":{"orient":"left","values":[0.01,0.1,1],"ticks":false,"labelExpr":"format(round(log(datum.value)/LN10),'d')","labelFontSize":21,"labelAlign":"left","labelBaseline":"middle","labelDy":-4,"labelPadding":33.7,"title":null}},
    "text":{"field":"t"}
   }
  },
  {
   "data":{"values":[{"x":2.13,"y":0.00659,"t":"Spectra binned by stability parameter"}]},
   "mark":{"type":"text","align":"center","baseline":"alphabetic","font":"Liberation Sans","fontWeight":"bold","fontSize":45,"color":"black"},
   "encoding":{
    "x":{"field":"x","type":"quantitative","scale":{"type":"log","domain":[0.01,500],"nice":false},
     "axis":{"orient":"top","values":[0.01,0.1,1,10,100],"labels":false,"tickSize":-10,"tickWidth":2,"title":null}},
    "y":{"field":"y","type":"quantitative","scale":{"type":"log","domain":[0.005,1],"nice":false},
     "axis":{"orient":"right","values":[0.01,0.1,1],"labels":false,"tickSize":-19,"tickWidth":2.5,"title":null}},
    "text":{"field":"t"}
   }
  },
  {
   "data":{"values":[{"x":1,"y":0.1,"t":""}]},
   "mark":{"type":"text"},
   "encoding":{
    "x":{"field":"x","type":"quantitative","scale":{"type":"log","domain":[0.01,500],"nice":false},
     "axis":{"orient":"top","values":[0.02,0.03,0.04,0.05,0.06,0.07,0.08,0.09,0.2,0.3,0.4,0.5,0.6,0.7,0.8,0.9,2,3,4,5,6,7,8,9,20,30,40,50,60,70,80,90,200,300,400],"labels":false,"tickSize":-5,"tickWidth":2,"title":null}},
    "y":{"field":"y","type":"quantitative","scale":{"type":"log","domain":[0.005,1],"nice":false},
     "axis":{"orient":"right","values":[0.006,0.007,0.008,0.009,0.02,0.03,0.04,0.05,0.06,0.07,0.08,0.09,0.2,0.3,0.4,0.5,0.6,0.7,0.8,0.9],"labels":false,"tickSize":-10,"tickWidth":2.5,"title":null}},
    "text":{"field":"t"}
   }
  }
 ]
},
{
 "width":886,"height":816,
 "resolve":{"axis":{"x":"independent","y":"independent"}},
 "layer":[
  {
   "data":{"name":"right"},
   "transform":[{"filter":"datum.s != '>  0.65'"}],
   "mark":{"type":"line","strokeWidth":3},
   "encoding":{
    "x":{"field":"x","type":"quantitative","scale":{"type":"log","domain":[0.01,500],"nice":false},
     "axis":{"orient":"bottom","values":[0.01,0.1,1,10,100],"labelExpr":"'10'","tickSize":-10,"tickWidth":2,"labelFontSize":29,"labelAlign":"right","labelBaseline":"alphabetic","labelDx":4,"labelPadding":56,"title":"kZᵢ","titleFontSize":30,"titleX":433,"titleY":66,"titleAlign":"center","titleBaseline":"alphabetic"}},
    "y":{"field":"y","type":"quantitative","scale":{"type":"log","domain":[0.005,1],"nice":false},
     "axis":{"orient":"left","values":[0.01,0.1],"labelExpr":"datum.value < 0.05 ? '2' : '1'","tickSize":-20,"tickWidth":2.5,"labelFontSize":15,"labelAlign":"right","labelBaseline":"middle","labelDy":1,"labelPadding":25.5,"title":null}},
    "color":{"field":"s","type":"nominal",
     "scale":{"domain":["[ 0.00,  0.25]","[ 0.25,  0.30]","[ 0.30,  0.35]","[ 0.40,  0.45]","[ 0.50,  0.58]","[ 0.58,  0.65]"],
              "range":["#000000","#0000f0","#00bfff","#32cd32","#ff8c00","#ff0000"]},
     "legend":{"orient":"none","legendX":30.5,"legendY":613,"columns":2,"gridAlign":"each","columnPadding":34,"rowPadding":5,"symbolType":"M-3,0H3","symbolSize":576,"symbolStrokeWidth":3.5,"labelFontSize":25,"labelOffset":38,"labelLimit":0,
       "labelExpr":"replace(datum.label, '  ', '\u00a0 ')",
       "title":"u*=","titleOrient":"left","titleAnchor":"start","titleBaseline":"top","titleFontSize":25,"titlePadding":61,"titleLimit":0}}
   }
  },
  {
   "data":{"values":[{"x":2,"y":0.58},{"x":100,"y":0.042}]},
   "mark":{"type":"line","color":"black","strokeWidth":2.5,"strokeDash":[16,10]},
   "encoding":{
    "x":{"field":"x","type":"quantitative","scale":{"type":"log","domain":[0.01,500],"nice":false},
     "axis":{"orient":"bottom","values":[0.02,0.03,0.04,0.05,0.06,0.07,0.08,0.09,0.2,0.3,0.4,0.5,0.6,0.7,0.8,0.9,2,3,4,5,6,7,8,9,20,30,40,50,60,70,80,90,200,300,400],"labels":false,"tickSize":-5,"tickWidth":2,"title":null}},
    "y":{"field":"y","type":"quantitative","scale":{"type":"log","domain":[0.005,1],"nice":false},
     "axis":{"orient":"left","values":[0.006,0.007,0.008,0.009,0.02,0.03,0.04,0.05,0.06,0.07,0.08,0.09,0.2,0.3,0.4,0.5,0.6,0.7,0.8,0.9],"labels":false,"tickSize":-12,"tickWidth":2.5,"title":null}}
   }
  },
  {
   "data":{"values":[{"x":6.5,"y":0.259,"t":"- 2/3"}]},
   "mark":{"type":"text","align":"left","baseline":"middle","font":"Liberation Serif","fontWeight":"bold","fontSize":30,"color":"black"},
   "encoding":{
    "x":{"field":"x","type":"quantitative","scale":{"type":"log","domain":[0.01,500],"nice":false},
     "axis":{"orient":"bottom","values":[0.01,0.1,1,10,100],"ticks":false,"labelExpr":"format(round(log(datum.value)/LN10),'d')","labelFontSize":21,"labelAlign":"left","labelBaseline":"alphabetic","labelDx":8,"labelPadding":31,"title":null}},
    "y":{"field":"y","type":"quantitative","scale":{"type":"log","domain":[0.005,1],"nice":false},"axis":null},
    "text":{"field":"t"}
   }
  },
  {
   "data":{"values":[{"x":2.37,"y":0.00664,"t":"Spectra binned by friction velocity"}]},
   "mark":{"type":"text","align":"center","baseline":"alphabetic","font":"Liberation Sans","fontWeight":"bold","fontSize":45,"color":"black"},
   "encoding":{
    "x":{"field":"x","type":"quantitative","scale":{"type":"log","domain":[0.01,500],"nice":false},
     "axis":{"orient":"top","values":[0.01,0.1,1,10,100],"labels":false,"tickSize":-10,"tickWidth":2,"title":null}},
    "y":{"field":"y","type":"quantitative","scale":{"type":"log","domain":[0.005,1],"nice":false},
     "axis":{"orient":"right","values":[0.01,0.1,1],"labels":false,"tickSize":-19,"tickWidth":2.5,"title":null}},
    "text":{"field":"t"}
   }
  },
  {
   "data":{"values":[{"x":1,"y":0.1,"t":""}]},
   "mark":{"type":"text"},
   "encoding":{
    "x":{"field":"x","type":"quantitative","scale":{"type":"log","domain":[0.01,500],"nice":false},
     "axis":{"orient":"top","values":[0.02,0.03,0.04,0.05,0.06,0.07,0.08,0.09,0.2,0.3,0.4,0.5,0.6,0.7,0.8,0.9,2,3,4,5,6,7,8,9,20,30,40,50,60,70,80,90,200,300,400],"labels":false,"tickSize":-5,"tickWidth":2,"title":null}},
    "y":{"field":"y","type":"quantitative","scale":{"type":"log","domain":[0.005,1],"nice":false},
     "axis":{"orient":"right","values":[0.006,0.007,0.008,0.009,0.02,0.03,0.04,0.05,0.06,0.07,0.08,0.09,0.2,0.3,0.4,0.5,0.6,0.7,0.8,0.9],"labels":false,"tickSize":-10,"tickWidth":2.5,"title":null}},
    "text":{"field":"t"}
   }
  },
  {
   "data":{"name":"right"},
   "transform":[{"filter":"datum.s == '>  0.65'"}],
   "mark":{"type":"line","strokeWidth":3},
   "encoding":{
    "x":{"field":"x","type":"quantitative","scale":{"type":"log","domain":[0.01,500],"nice":false},"axis":null},
    "y":{"field":"y","type":"quantitative","scale":{"type":"log","domain":[0.005,1],"nice":false},"axis":null},
    "stroke":{"field":"s","type":"nominal",
     "scale":{"domain":[">  0.65"],"range":["#ff00ff"]},
     "legend":{"orient":"none","legendX":705,"legendY":613,"symbolType":"M-3,0H3","symbolSize":576,"symbolStrokeWidth":3.5,"labelFontSize":25,"labelOffset":38,"labelLimit":0,
       "labelExpr":"replace(datum.label, '  ', '\u00a0 ')","title":null}}
   }
  }
 ]
}
],
"resolve":{"scale":{"color":"independent","stroke":"independent"},"legend":{"color":"independent","stroke":"independent"}}
}
